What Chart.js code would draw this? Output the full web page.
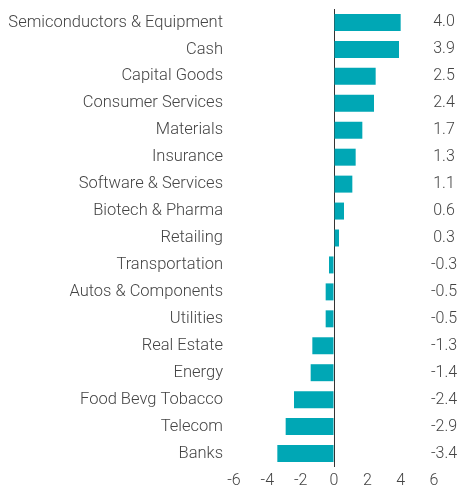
<!DOCTYPE html>
<html><head><meta charset="utf-8">
<script src="https://cdn.jsdelivr.net/npm/chart.js@4/dist/chart.umd.min.js"></script>
<style>html,body{margin:0;padding:0;background:#fff}#wrap{width:462px;height:489px}</style>
</head><body><div id="wrap"><canvas id="c" width="462" height="489"></canvas></div>
<script>
const categories = ["Semiconductors & Equipment","Cash","Capital Goods","Consumer Services","Materials","Insurance","Software & Services","Biotech & Pharma","Retailing","Transportation","Autos & Components","Utilities","Real Estate","Energy","Food Bevg Tobacco","Telecom","Banks"];
const values = [4.0,3.9,2.5,2.4,1.7,1.3,1.1,0.6,0.3,-0.3,-0.5,-0.5,-1.3,-1.4,-2.4,-2.9,-3.4];
const xTicks = [-6,-4,-2,0,2,4,6];
const valueLabels = values.map(v => v.toFixed(1));

const FONT = {family: "Roboto", size: 16.5, weight: 300, lineHeight: 1.0};
const TXT = "#444";

const valueLabelPlugin = {
  id: 'valueLabels',
  afterDraw(chart) {
    const ctx = chart.ctx, y = chart.scales.y, area = chart.chartArea;
    ctx.save();
    ctx.font = `${FONT.weight} 16px ${FONT.family}`;
    ctx.fillStyle = TXT;
    ctx.textAlign = 'center';
    ctx.textBaseline = 'middle';
    valueLabels.forEach((t, i) => ctx.fillText(t, area.right + 10, y.getPixelForValue(i)));
    ctx.restore();
  }
};

new Chart(document.getElementById('c'), {
  type: 'bar',
  data: { labels: categories, datasets: [{ data: values, backgroundColor: '#00A7B5', barPercentage: 0.63, categoryPercentage: 1.0 }] },
  plugins: [valueLabelPlugin],
  options: {
    indexAxis: 'y', responsive: false, animation: false,
    layout: { padding: { top: 9, right: 28, left: 0, bottom: 0 } },
    plugins: { legend: { display: false }, tooltip: { enabled: false } },
    scales: {
      x: {
        min: xTicks[0], max: xTicks[xTicks.length-1],
        afterBuildTicks: s => { s.ticks = xTicks.map(v => ({value: v})); },
        afterFit: s => { s.height = 22; s.paddingLeft = 0; s.paddingRight = 0; },
        border: { display: false },
        grid: { drawTicks: false, color: c => (c.tick && c.tick.value === 0) ? '#333' : 'rgba(0,0,0,0)', lineWidth: 1 },
        ticks: { color: TXT, font: {family: FONT.family, size: 16, weight: 300}, padding: 4, maxRotation: 0 }
      },
      y: {
        position: 'left',
        afterFit: s => { s.width = 234; s.paddingTop = 0; s.paddingBottom = 0; },
        border: { display: false }, grid: { display: false, drawTicks: false },
        ticks: { color: TXT, font: FONT, padding: 11, autoSkip: false }
      }
    }
  }
});
</script></body></html>
